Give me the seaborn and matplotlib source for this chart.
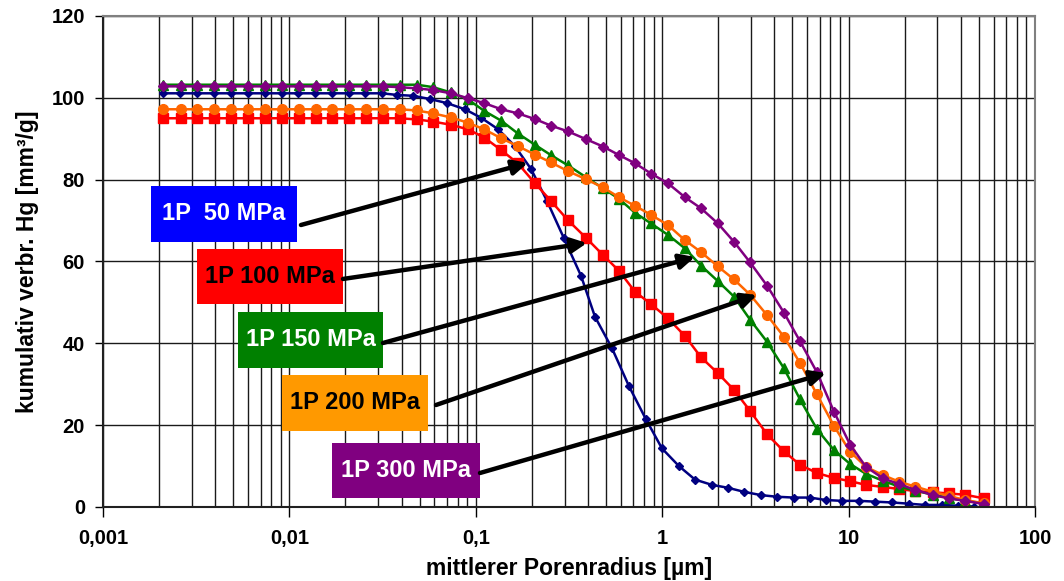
import numpy as np
import matplotlib
matplotlib.use("Agg")
import matplotlib.pyplot as plt
import seaborn as sns
from matplotlib.patches import Rectangle
from matplotlib.ticker import LogLocator, NullFormatter

# --- data (x = mittlerer Porenradius in µm) ---
x_common = [0.0021, 0.00262, 0.00319, 0.00394, 0.00486, 0.0060, 0.0074, 0.00913, 0.0113, 0.0139,
            0.0169, 0.0209, 0.0258, 0.0318, 0.0392, 0.0484, 0.0590, 0.0736, 0.0908, 0.111,
            0.137, 0.168, 0.208, 0.253, 0.312, 0.390, 0.481, 0.587, 0.715, 0.871,
            1.074, 1.325, 1.615, 1.99, 2.43, 2.96, 3.65, 4.50, 5.49, 6.77,
            8.35, 10.2, 12.4, 15.3, 18.6, 22.7, 28.4, 34.6, 42.1, 53.3]

x_blue = [0.0021, 0.00259, 0.00319, 0.00394, 0.00486, 0.0060, 0.0074, 0.00913, 0.0111, 0.0137,
          0.0169, 0.0209, 0.0254, 0.0314, 0.0378, 0.0460, 0.0568, 0.0701, 0.0875, 0.107,
          0.132, 0.162, 0.198, 0.241, 0.297, 0.367, 0.436, 0.538, 0.664, 0.819,
          0.998, 1.23, 1.50, 1.85, 2.25, 2.75, 3.39, 4.13, 5.09, 6.21,
          7.56, 9.22, 11.4, 13.9, 17.1, 21.1, 25.7, 31.7, 38.6, 47.1]

y_50 = [101.1, 101.1, 101.1, 101.1, 101.1, 101.1, 101.1, 101.1, 101.1, 101.1,
        101.1, 101.1, 101.1, 101.1, 100.7, 100.5, 99.7, 98.7, 97.2, 95.1,
        92.3, 88.2, 82.6, 74.8, 65.7, 56.5, 46.5, 38.8, 29.5, 21.4,
        14.3, 10.0, 6.7, 5.4, 4.7, 3.7, 2.9, 2.5, 2.3, 2.3,
        1.7, 1.5, 1.5, 1.3, 1.1, 0.8, 0.5, 0.5, 0.3, 0.1]

y_100 = [95.0, 95.0, 95.0, 95.0, 95.0, 95.0, 95.0, 95.0, 95.0, 95.0,
         95.0, 95.0, 95.0, 95.0, 95.0, 94.7, 94.2, 93.4, 92.3, 90.3,
         87.2, 84.0, 79.1, 74.8, 70.1, 65.8, 61.6, 57.7, 52.6, 49.6,
         46.1, 41.8, 36.6, 32.7, 28.6, 23.5, 17.8, 13.6, 10.3, 8.3,
         7.1, 6.3, 5.4, 4.9, 4.4, 3.9, 3.6, 3.3, 3.0, 2.1]

y_150 = [103.2, 103.2, 103.2, 103.2, 103.2, 103.2, 103.2, 103.2, 103.2, 103.2,
         103.2, 103.2, 103.2, 103.2, 103.2, 103.2, 102.6, 101.3, 99.6, 96.8,
         94.4, 91.3, 88.5, 86.0, 83.5, 80.6, 77.9, 75.3, 71.9, 69.3,
         66.5, 63.2, 59.0, 55.2, 51.4, 45.8, 40.4, 33.9, 26.3, 19.0,
         13.9, 10.5, 8.1, 6.4, 5.0, 4.0, 3.0, 2.2, 1.5, 0.9]

y_200 = [97.2, 97.2, 97.2, 97.2, 97.2, 97.2, 97.2, 97.2, 97.2, 97.2,
         97.2, 97.2, 97.2, 97.2, 97.2, 96.9, 96.2, 95.2, 93.9, 92.3,
         90.1, 88.2, 86.1, 84.2, 82.1, 80.1, 78.1, 75.7, 73.6, 71.4,
         68.9, 65.2, 62.3, 58.8, 55.6, 51.9, 46.9, 41.6, 35.2, 27.5,
         19.8, 13.5, 9.8, 7.8, 6.2, 5.0, 3.7, 2.7, 1.7, 0.9]

y_300 = [102.8, 102.8, 102.8, 102.8, 102.8, 102.8, 102.8, 102.8, 102.8, 102.8,
         102.8, 102.8, 102.8, 102.8, 102.6, 102.3, 101.9, 101.1, 99.9, 98.7,
         97.2, 96.2, 94.8, 93.2, 91.8, 89.9, 88.1, 86.0, 84.0, 81.5,
         79.1, 75.7, 73.0, 69.3, 64.8, 59.8, 54.1, 47.5, 40.5, 32.9,
         23.3, 15.2, 9.8, 7.0, 5.6, 4.2, 2.9, 2.1, 1.5, 0.7]

labels = ["1P  50 MPa", "1P 100 MPa", "1P 150 MPa", "1P 200 MPa", "1P 300 MPa"]
x_ticks = [0.001, 0.01, 0.1, 1, 10, 100]
x_ticklabels = ["0,001", "0,01", "0,1", "1", "10", "100"]
y_ticks = [0, 20, 40, 60, 80, 100, 120]

# arrow targets on the curves (data coords)
arrow_x = [0.1905, 0.395, 1.50, 3.226, 7.56]
arrow_y = [84.1, 64.5, 61.1, 51.8, 32.7]

# --- style ---
sns.set_theme(style="white")
plt.rcParams["font.family"] = ["Liberation Sans", "DejaVu Sans"]
plt.rcParams["font.weight"] = "bold"
plt.rcParams["axes.labelweight"] = "bold"

fig = plt.figure(figsize=(10.64, 5.81), dpi=100)
ax = fig.add_axes([0.0968, 0.1274, 0.8759, 0.8451])

series = [
    (x_blue, y_50, "#000080", "D", 4.5),
    (x_common, y_100, "#FF0000", "s", 6.5),
    (x_common, y_150, "#008000", "^", 7),
    (x_common, y_200, "#FF6600", "o", 7),
    (x_common, y_300, "#800080", "D", 5.5),
]
for xs, ys, col, mk, ms in series:
    sns.lineplot(x=xs, y=ys, ax=ax, color=col, marker=mk, markersize=ms,
                 markeredgecolor=col, markeredgewidth=1, linewidth=1.8, sort=False)

ax.set_xscale("log")
ax.set_xlim(0.001, 100)
ax.set_ylim(0, 120)
ax.set_xticks(x_ticks)
ax.set_xticklabels(x_ticklabels)
ax.set_yticks(y_ticks)
ax.xaxis.set_minor_locator(LogLocator(base=10, subs=np.arange(2, 10)))
ax.xaxis.set_minor_formatter(NullFormatter())

ax.set_axisbelow(True)
ax.grid(True, which="major", color="#1a1a1a", linewidth=1.0)
ax.grid(True, which="minor", axis="x", color="#1a1a1a", linewidth=1.0)

ax.tick_params(axis="x", which="major", bottom=True, direction="out", length=7, width=1,
               pad=9, labelsize=14.5, colors="black")
ax.tick_params(axis="x", which="minor", bottom=False, length=0)
ax.tick_params(axis="y", left=True, direction="out", length=6, width=1, pad=7,
               labelsize=14.5, colors="black")

for side in ["left", "bottom"]:
    ax.spines[side].set_color("#202020")
    ax.spines[side].set_linewidth(1.5)
for side in ["top", "right"]:
    ax.spines[side].set_color("#808080")
    ax.spines[side].set_linewidth(1.5)

ax.set_xlabel("mittlerer Porenradius [µm]", fontsize=16.5, fontweight="bold",
              labelpad=6, color="black")
ax.set_ylabel("kumulativ verbr. Hg [mm³/g]", fontsize=16.5, fontweight="bold",
              labelpad=9, color="black")

# --- label boxes with arrows ---
box_fc = ["#0000FF", "#FF0000", "#008000", "#FF9900", "#800080"]
box_tc = ["white", "black", "white", "black", "white"]
box_x0 = [0.0515, 0.1009, 0.1449, 0.1921, 0.2457]
box_x1 = [0.2082, 0.2575, 0.3004, 0.3487, 0.4045]
box_y0 = [0.5397, 0.4134, 0.2831, 0.1548, 0.0183]
box_y1 = [0.6538, 0.5255, 0.3971, 0.2688, 0.1303]
arrow_start = [(0.2124, 0.5743), (0.2575, 0.4644), (0.3004, 0.3340),
               (0.3573, 0.2077), (0.4045, 0.0692)]

for i, name in enumerate(labels):
    ax.add_patch(Rectangle((box_x0[i], box_y0[i]), box_x1[i] - box_x0[i], box_y1[i] - box_y0[i],
                           transform=ax.transAxes, facecolor=box_fc[i], edgecolor="none", zorder=4))
    ax.text((box_x0[i] + box_x1[i]) / 2, (box_y0[i] + box_y1[i]) / 2, name,
            transform=ax.transAxes, ha="center", va="center", fontsize=17,
            color=box_tc[i], fontweight="bold", zorder=6)
    ax.annotate("", xy=(arrow_x[i], arrow_y[i]), xycoords="data",
                xytext=arrow_start[i], textcoords="axes fraction",
                arrowprops=dict(arrowstyle="-|>,head_length=0.45,head_width=0.22",
                                lw=3.2, color="black", shrinkA=0, shrinkB=0,
                                mutation_scale=20),
                zorder=5)

fig.savefig("out.png", dpi=100)
